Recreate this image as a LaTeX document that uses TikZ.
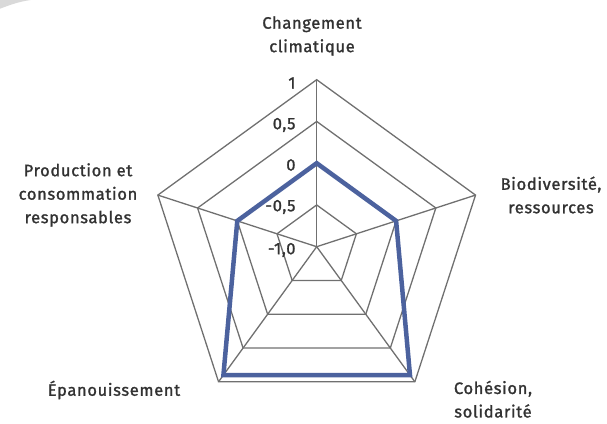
\documentclass[tikz,border=0pt]{standalone}
\usepackage{fontspec}
\setmainfont{Fira Sans}[LetterSpace=4, FakeBold=1.4]
\usepackage{tikz}
\definecolor{gridgray}{RGB}{112,112,112}
\definecolor{scoreblue}{RGB}{76,98,158}
\definecolor{labelgray}{RGB}{50,50,50}

\begin{document}
\begin{tikzpicture}[x=1pt, y=1pt,
  grid/.style={draw=gridgray, line width=1.3pt},
  score/.style={draw=scoreblue, line width=4.5pt, line join=miter},
  axislabel/.style={text=labelgray, font=\fontsize{16.5}{23.5}\selectfont, align=center, inner sep=0pt},
  ticklabel/.style={text=labelgray, font=\fontsize{16.5}{18}\selectfont, anchor=east, inner sep=0pt}]

\useasboundingbox (-316.7,-176.3) rectangle (290.3,246.7);

% frame corner
\fill[gray!30] (-316.7,246.7) -- (-316.7,238) .. controls (-306,242) and (-298,245) .. (-286,246.7) -- cycle;

% spokes
\foreach \a in {90,18,-54,-126,162}
  \draw[grid] (0,0) -- (\a:167);
% rings
\foreach \r in {0.25,0.5,0.75,1}
  \draw[grid] (90:{167*\r}) -- (18:{167*\r}) -- (-54:{167*\r}) -- (-126:{167*\r}) -- (162:{167*\r}) -- cycle;

% scale
\node[ticklabel] (t1)  at (-21,163.7) {1};
\node[ticklabel] (t05) at (-21,121.7) {0,5};
\node[ticklabel] (t0)  at (-21,81.7)  {0};
\node[ticklabel] (tm05) at (-21,39.7) {-0,5};
\node[ticklabel] (tm1) at (-21,-3.3)  {-1,0};

% score
\draw[score] (90:83.5) -- (18:83.5) -- (-54:158.7) -- (-126:158.7) -- (162:83.5) -- cycle;

% axis names
\node[axislabel] (climat) at (-4.7,210.7)   {Changement\\climatique};
\node[axislabel] (biodiv) at (234.3,51.7)   {Biodiversité,\\ressources};
\node[axislabel] (cohesion) at (176.3,-152.5) {Cohésion,\\solidarité};
\node[axislabel] (epanou) at (-202.7,-143.3) {Épanouissement};
\node[axislabel] (prod) at (-238.7,51.7)    {Production et\\consommation\\responsables};

\end{tikzpicture}
\end{document}
